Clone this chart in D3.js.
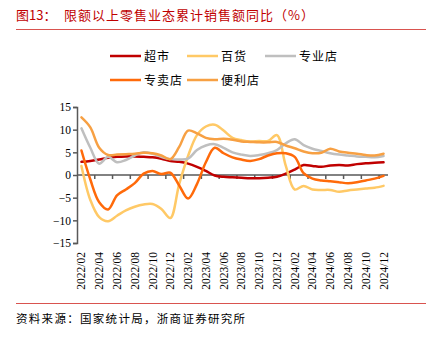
<!DOCTYPE html>
<html><head><meta charset="utf-8">
<script src="https://cdn.jsdelivr.net/npm/d3@7"></script>
<style>body{margin:0;background:#fff}svg{display:block}</style>
</head><body>
<svg id="c" width="431" height="341"></svg>
<script>
const months = [];
["2022","2023","2024"].forEach((y, yi) => {
  for (let m = (yi === 0 ? 2 : 1); m <= 12; m++) months.push(y + "/" + String(m).padStart(2, "0"));
});
const seriesNames = ["超市", "百货", "专业店", "专卖店", "便利店"];
const chaoshi = [2.9,3.1,3.4,3.8,4.0,4.1,4.1,4.0,3.9,3.6,3.1,2.9,2.5,1.8,0.9,-0.1,-0.4,-0.5,-0.6,-0.7,-0.7,-0.6,-0.4,0.3,1.2,2.2,2.0,1.8,2.1,2.2,2.1,2.4,2.6,2.7,2.8];
const baihuo = [2.0,-5.5,-9.3,-10.2,-9.0,-7.8,-7.0,-6.5,-6.4,-7.5,-9.5,-2.0,4.2,8.8,10.7,11.1,9.8,8.2,7.7,7.4,7.5,7.5,8.8,2.0,-3.2,-2.4,-3.2,-3.3,-3.3,-3.7,-3.4,-3.2,-3.0,-2.8,-2.4];
const zhuanye = [10.3,6.0,2.5,4.0,2.8,3.3,4.3,5.0,4.7,4.0,3.5,3.4,3.6,5.5,6.5,6.8,6.0,5.0,4.5,4.2,4.4,4.8,5.5,7.0,7.9,6.6,5.8,5.3,4.8,4.5,4.3,4.1,4.0,3.9,4.2];
const zhuanmai = [5.4,-1.0,-6.0,-7.6,-4.5,-3.2,-1.8,0.3,0.9,0.2,0.5,-2.3,-5.2,-2.0,2.8,6.0,4.8,3.9,3.4,3.1,3.5,4.3,4.8,4.8,4.0,0.4,-0.8,-1.2,-1.4,-1.6,-1.8,-1.6,-1.2,-0.8,-0.2];
const bianli = [12.7,10.5,6.0,4.4,4.5,4.6,4.7,4.9,4.8,4.3,3.5,6.2,9.8,9.2,8.2,7.9,8.0,7.8,7.4,7.3,7.2,7.2,7.3,6.5,5.9,5.2,4.8,4.9,5.8,5.2,4.9,4.7,4.4,4.3,4.7];
const yTicks = [15, 10, 5, 0, -5, -10, -15];

const colors = ["#C00000", "#FFC966", "#BFBFBF", "#FF6A0A", "#F7A043"];
const data = [chaoshi, baihuo, zhuanye, zhuanmai, bianli];

const svg = d3.select("#c");
const cjk = "'Noto Sans CJK SC', sans-serif";
const serif = "'Liberation Serif', 'DejaVu Serif', serif";

// title
svg.append("text").attr("x", 16).attr("y", 20).attr("fill", "#C00000")
  .attr("font-family", cjk).attr("font-size", 13).text("图13：");
svg.append("text").attr("x", 64).attr("y", 20).attr("fill", "#C00000")
  .attr("font-family", cjk).attr("font-size", 13).attr("letter-spacing", 1)
  .text("限额以上零售业态累计销售额同比（%）");
svg.append("line").attr("x1", 16).attr("x2", 426).attr("y1", 29.5).attr("y2", 29.5)
  .attr("stroke", "#D9534F").attr("stroke-width", 1);

const x = d3.scalePoint().domain(months).range([77, 388]).padding(0.5);
const y = d3.scaleLinear().domain([-15, 15]).range([243, 107]);

// y axis
const yAxis = d3.axisLeft(y).tickValues(yTicks).tickSize(4).tickFormat(d3.format("d"));
const gy = svg.append("g").attr("transform", "translate(77,0)").call(yAxis);
gy.select(".domain").attr("stroke", "#595959").attr("stroke-width", 1.5);
gy.selectAll(".tick line").attr("stroke", "#595959").attr("stroke-width", 1.5);
gy.selectAll(".tick text").attr("font-family", serif).attr("font-size", 11.5).attr("fill", "#000").attr("x", -6);

// x axis at zero
const step = x.step();
const tickPos = d3.range(2, 36, 2).map(i => 77 + i * step);
const gx = svg.append("g");
gx.append("line").attr("x1", 77).attr("x2", 388).attr("y1", y(0)).attr("y2", y(0))
  .attr("stroke", "#595959").attr("stroke-width", 1.5);
gx.selectAll("line.t").data(tickPos.filter(p => p < 388)).join("line").attr("class", "t")
  .attr("x1", d => d).attr("x2", d => d).attr("y1", y(0)).attr("y2", y(0) + 4)
  .attr("stroke", "#595959").attr("stroke-width", 1.5);

// x labels (every 2 months)
const labelMonths = months.filter((m, i) => i % 2 === 0);
svg.append("g").selectAll("text").data(labelMonths).join("text")
  .attr("transform", d => `translate(${x(d) + 4},252) rotate(-90)`)
  .attr("text-anchor", "end")
  .attr("font-family", serif).attr("font-size", 11.5).attr("fill", "#000")
  .text(d => d);

// lines
const line = d3.line().x((d, i) => x(months[i])).y(d => y(d)).curve(d3.curveCatmullRom.alpha(0.5));
svg.append("g").selectAll("path").data(data).join("path")
  .attr("d", d => line(d)).attr("fill", "none")
  .attr("stroke", (d, i) => colors[i]).attr("stroke-width", 2.5)
  .attr("stroke-linejoin", "round").attr("stroke-linecap", "round");

// legend
const legendPos = [[110, 56], [187, 56], [265, 56], [110, 80], [187, 80]];
const lg = svg.append("g");
seriesNames.forEach((n, i) => {
  const [lx, ly] = legendPos[i];
  lg.append("line").attr("x1", lx).attr("x2", lx + 31).attr("y1", ly).attr("y2", ly)
    .attr("stroke", colors[i]).attr("stroke-width", 2.5);
  lg.append("text").attr("x", lx + 34).attr("y", ly + 4.5)
    .attr("font-family", cjk).attr("font-size", 12).attr("letter-spacing", 1)
    .attr("fill", "#000").text(n);
});

// bottom
svg.append("line").attr("x1", 16).attr("x2", 426).attr("y1", 303.5).attr("y2", 303.5)
  .attr("stroke", "#D9534F").attr("stroke-width", 1);
svg.append("text").attr("x", 16).attr("y", 323).attr("fill", "#000")
  .attr("font-family", cjk).attr("font-size", 11.5).attr("letter-spacing", 1.3)
  .text("资料来源：国家统计局，浙商证券研究所");
</script>
</body></html>
